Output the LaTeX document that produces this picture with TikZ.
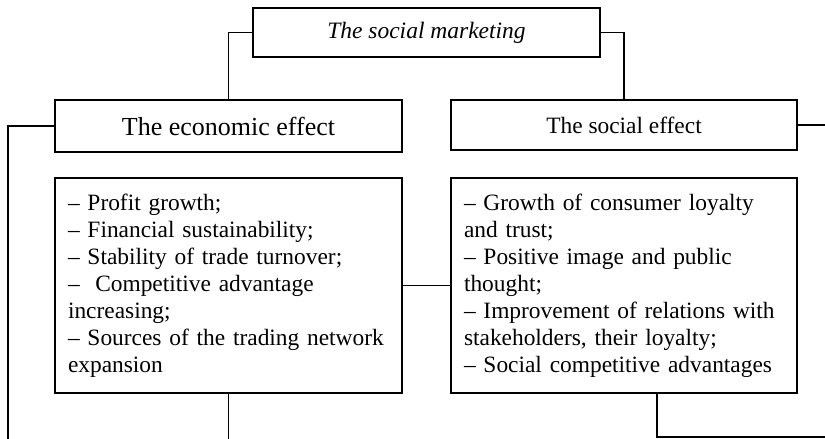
\documentclass[tikz,border=0pt]{standalone}
\usepackage{fontspec}
\setmainfont{Liberation Serif}
\usepackage{tikz}
\usetikzlibrary{positioning}

\begin{document}
\begin{tikzpicture}[
                    x=1pt, y=-1pt,
                    box/.style={draw, line width=1.8pt, inner sep=0pt, font=\fontsize{23.4}{27}\selectfont},
                    headbox/.style={box, minimum width=347pt, minimum height=51pt},
                    listbox/.style={box, inner xsep=13pt, text width=321pt, align=left, minimum height=215pt},
                    link/.style={line width=1.8pt}
                ]
                \useasboundingbox (0,0) rectangle (825,439);
                \node[box, minimum width=347pt, minimum height=49pt, font=\fontsize{23.5}{27}\selectfont\itshape] (mkt) at (426.5,32.5) {The social marketing};
                \node[headbox, minimum height=52pt, font=\fontsize{26}{30}\selectfont] (eco) at (228.5,126) {The economic effect};
                \node[headbox, minimum width=346pt, minimum height=50pt] (soc) at (624,125) {The social effect};
                \node[listbox] (ecolist) at (228.5,285.5) {-- Profit growth;\\
                        -- Financial sustainability;\\
                        -- Stability of trade turnover;\\
                        --~ Competitive advantage\\
                        increasing;\\
                        -- Sources of the trading network\\
                        expansion};
                \node[listbox, text width=320pt] (soclist) at (624,285.5) {-- Growth of consumer loyalty\\
                        and trust;\\
                        -- Positive image and public\\
                        thought;\\
                        -- Improvement of relations with\\
                        stakeholders, their loyalty;\\
                        -- Social competitive advantages};

                \coordinate (lb) at (8,439);
                \coordinate (rt) at (825,125);
                \coordinate (eb) at (228.5,439);
                \coordinate (rb) at (825,437);

                \draw[link] (mkt.west) -| (eco.north);
                \draw[link] (mkt.east) -| (soc.north);
                \draw[link] (eco.west) -| (lb);
                \draw[link] (soc.east) -- (rt);
                \draw[link] (ecolist.east) -- (soclist.west);
                \draw[link] (ecolist.south) -- (eb);
                \draw[link] ([xshift=33pt]soclist.south) |- (rb);
            \end{tikzpicture}
\end{document}
